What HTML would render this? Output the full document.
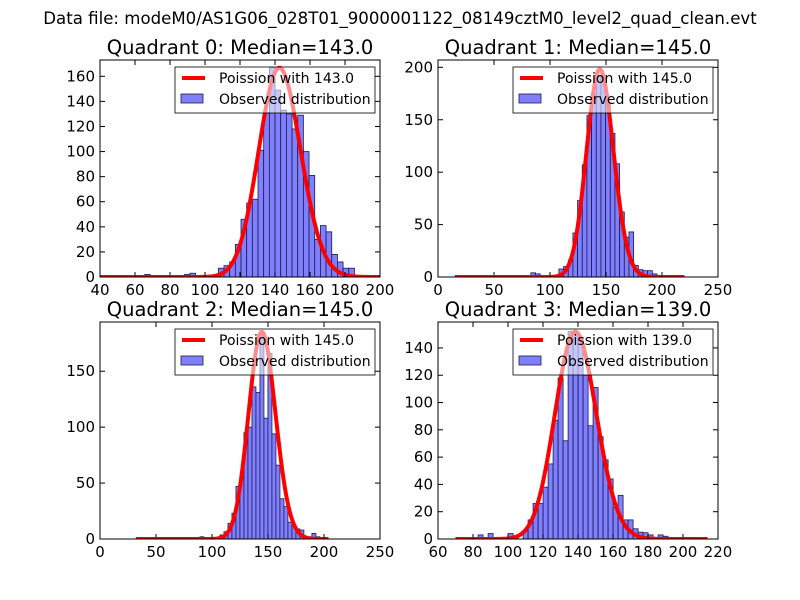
<!DOCTYPE html>
<html><head><meta charset="utf-8">
<style>
body{margin:0;background:#fff;}
svg{display:block;font-family:"DejaVu Sans","Liberation Sans",sans-serif;}
</style></head>
<body>
<svg id="fig" width="800" height="600" viewBox="0 0 800 600">
<rect width="800" height="600" fill="#fff"/>
<text x="400" y="24" font-size="16.6" text-anchor="middle">Data file: modeM0/AS1G06_028T01_9000001122_08149cztM0_level2_quad_clean.evt</text>
</svg>
<script>
// ---- Quadrant 0 data ----
const q0Median = 143.0;
const q0BinStart = 65.5;
const q0BinWidth = 3.24;
const q0Counts = [2,0,0,0,1,0,0,2,3,0,0,0,0,7,9,12,26,46,59,62,101,131,167,149,133,130,118,129,100,81,30,41,36,18,12,7,7];
const q0CurveScale = [5000];
const q0CurveRange = [40,200];
const q0XTicks = [40,60,80,100,120,140,160,180,200];
const q0YTicks = [0,20,40,60,80,100,120,140,160];
// ---- Quadrant 1 data ----
const q1Median = 145.0;
const q1BinStart = 74.6;
const q1BinWidth = 4.17;
const q1Counts = [1,0,4,3,0,0,0,0,7.6,10,16,42,73,107,154,175,192,190,165,137,108,62,38,43,11,7,6,6,3];
const q1CurveScale = [5980];
const q1CurveRange = [15,220];
const q1XTicks = [0,50,100,150,200,250];
const q1YTicks = [0,50,100,150,200];
// ---- Quadrant 2 data ----
const q2Median = 145.0;
const q2BinStart = 89.25;
const q2BinWidth = 3.57;
const q2Counts = [2,0,0,0,0,3.6,6.5,14,23,47,55,95,100,136,131,185,108,166,94,66,36,29,15,12,9,8,2,2,5,2];
const q2CurveScale = [5590];
const q2CurveRange = [32,204];
const q2XTicks = [0,50,100,150,200,250];
const q2YTicks = [0,50,100,150];
// ---- Quadrant 3 data ----
const q3Median = 139.0;
const q3BinStart = 77.2;
const q3BinWidth = 2.857;
const q3Counts = [1,0,3,0,4,0,0,0,4,2,0,6,14,26,26,38,55,87,118,72,152,150,148,120,83,111,75,58,44,23,32,14,14,7.5,5,4.6,3,1,3,2,1];
const q3CurveScale = [4490];
const q3CurveRange = [70,214];
const q3XTicks = [60,80,100,120,140,160,180,200,220];
const q3YTicks = [0,20,40,60,80,100,120,140];

const NS = "http://www.w3.org/2000/svg";
const fig = document.getElementById('fig');
function mk(tag, attrs, parent){
  const e = document.createElementNS(NS, tag);
  for (const k in attrs) e.setAttribute(k, attrs[k]);
  (parent||fig).appendChild(e);
  return e;
}
function lgamma(n){
  if (n < 2) return 0;
  return n*Math.log(n) - n + 0.5*Math.log(2*Math.PI*n) + 1/(12*n) - 1/(360*n*n*n);
}
function poisson(k, m){ return Math.exp(k*Math.log(m) - m - lgamma(k)); }

const panels = [
  {id:0, L:100, T:60, W:280, H:217, xmin:40, xmax:200, ymax:173, med:q0Median, bs:q0BinStart, bw:q0BinWidth, counts:q0Counts, scale:q0CurveScale[0], cr:q0CurveRange, xt:q0XTicks, yt:q0YTicks},
  {id:1, L:438, T:60, W:280, H:217, xmin:0, xmax:250, ymax:207, med:q1Median, bs:q1BinStart, bw:q1BinWidth, counts:q1Counts, scale:q1CurveScale[0], cr:q1CurveRange, xt:q1XTicks, yt:q1YTicks},
  {id:2, L:100, T:322, W:280, H:217, xmin:0, xmax:250, ymax:194, med:q2Median, bs:q2BinStart, bw:q2BinWidth, counts:q2Counts, scale:q2CurveScale[0], cr:q2CurveRange, xt:q2XTicks, yt:q2YTicks},
  {id:3, L:438, T:322, W:280, H:217, xmin:60, xmax:220, ymax:159, med:q3Median, bs:q3BinStart, bw:q3BinWidth, counts:q3Counts, scale:q3CurveScale[0], cr:q3CurveRange, xt:q3XTicks, yt:q3YTicks}
];

panels.forEach(p => {
  const g = mk('g', {});
  
  
  const xs = v => p.L + (v - p.xmin) / (p.xmax - p.xmin) * p.W;
  const ys = v => p.T + p.H - v / p.ymax * p.H;
  const clipId = 'clip' + p.id;
  const cp = mk('clipPath', {id: clipId}, g);
  mk('rect', {x:p.L, y:p.T, width:p.W, height:p.H}, cp);
  const plot = mk('g', {'clip-path':'url(#' + clipId + ')'}, g);

  p.counts.forEach((c, i) => {
    if (c <= 0) return;
    const x0 = xs(p.bs + i*p.bw), x1 = xs(p.bs + (i+1)*p.bw);
    const b = mk('rect', {x:x0, y:ys(c), width:x1-x0, height:ys(0)-ys(c), fill:'#8080ff', stroke:'#1a1a4d', 'stroke-width':0.8}, plot);
    
    
  });
  let d = '';
  for (let k = Math.ceil(p.cr[0]); k <= Math.floor(p.cr[1]); k++) {
    d += (d ? 'L' : 'M') + xs(k).toFixed(2) + ',' + ys(p.scale * poisson(k, p.med)).toFixed(2);
  }
  const curve = mk('path', {d:d, fill:'none', stroke:'#ff0000', 'stroke-width':4, 'stroke-linejoin':'round'}, plot);
  
  

  const lg = mk('g', {}, g);
  
  
  const lx = p.L + 75, ly = p.T + 7;
  mk('rect', {x:lx, y:ly, width:200, height:46, fill:'rgba(255,255,255,0.55)', stroke:'#000', 'stroke-width':0.8}, lg);
  mk('line', {x1:lx+7, y1:ly+11, x2:lx+30, y2:ly+11, stroke:'#ff0000', 'stroke-width':4}, lg);
  const t1 = mk('text', {x:lx+44, y:ly+16, 'font-size':14}, lg);
  t1.textContent = 'Poission with ' + p.med.toFixed(1);
  
  
  mk('rect', {x:lx+6, y:ly+27, width:22, height:9, fill:'#8080ff', stroke:'#1a1a4d', 'stroke-width':0.8}, lg);
  const t2 = mk('text', {x:lx+44, y:ly+37, 'font-size':14}, lg);
  t2.textContent = 'Observed distribution';
  
  

  mk('rect', {x:p.L, y:p.T, width:p.W, height:p.H, fill:'none', stroke:'#000', 'stroke-width':1}, g);
  p.xt.forEach(v => {
    const x = xs(v);
    mk('line', {x1:x, y1:p.T+p.H, x2:x, y2:p.T+p.H-5, stroke:'#000'}, g);
    mk('line', {x1:x, y1:p.T, x2:x, y2:p.T+5, stroke:'#000'}, g);
    const t = mk('text', {x:x, y:p.T+p.H+18, 'font-size':15, 'text-anchor':'middle'}, g);
    t.textContent = v;
    
    
  });
  p.yt.forEach(v => {
    const y = ys(v);
    mk('line', {x1:p.L, y1:y, x2:p.L+5, y2:y, stroke:'#000'}, g);
    mk('line', {x1:p.L+p.W, y1:y, x2:p.L+p.W-5, y2:y, stroke:'#000'}, g);
    const t = mk('text', {x:p.L-5, y:y+5, 'font-size':15, 'text-anchor':'end'}, g);
    t.textContent = v;
    
    
  });
  const title = mk('text', {x:p.L+p.W/2, y:p.T-6, 'font-size':19.5, 'text-anchor':'middle'}, g);
  title.textContent = 'Quadrant ' + p.id + ': Median=' + p.med.toFixed(1);
  
  
});
</script>
</body></html>
